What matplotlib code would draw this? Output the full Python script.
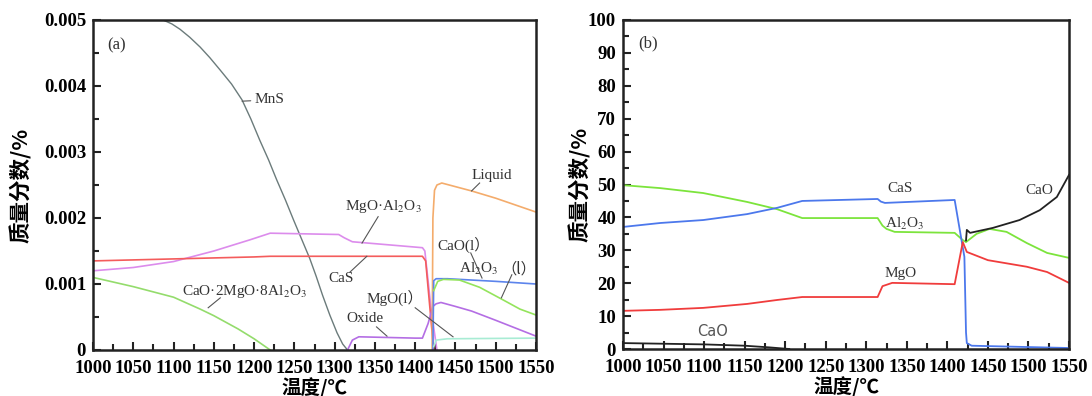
import matplotlib
matplotlib.use("Agg")
import matplotlib.pyplot as plt
from matplotlib.ticker import MultipleLocator

plt.rcParams['mathtext.fontset'] = 'stix'
plt.rcParams['font.family'] = ['Liberation Serif', 'DejaVu Serif']

# ---------------- data (a) : values in units of 0.001 ----------------
t_mns = [1080, 1087, 1098, 1108, 1120, 1133, 1145, 1158, 1172, 1185, 1196, 1207, 1218, 1228, 1239, 1249, 1259, 1269, 1277, 1285, 1294, 1303, 1310, 1316]
v_mns = [5.06, 5.00, 4.94, 4.86, 4.74, 4.59, 4.43, 4.24, 4.03, 3.79, 3.50, 3.18, 2.88, 2.58, 2.27, 1.97, 1.68, 1.39, 1.12, 0.83, 0.53, 0.26, 0.09, 0.0]

t_spinel = [1000, 1050, 1100, 1150, 1195, 1220, 1305, 1312, 1322, 1409, 1412, 1420, 1427]
v_spinel = [1.20, 1.25, 1.34, 1.50, 1.67, 1.77, 1.75, 1.70, 1.64, 1.55, 1.50, 0.60, 0.0]

t_cas_a = [1000, 1100, 1200, 1220, 1409, 1413, 1423]
v_cas_a = [1.35, 1.38, 1.41, 1.42, 1.42, 1.35, 0.0]

t_cma = [1000, 1050, 1100, 1133, 1150, 1180, 1200, 1220]
v_cma = [1.10, 0.96, 0.80, 0.62, 0.52, 0.32, 0.17, 0.0]

t_oxide = [1316, 1322, 1330, 1400, 1409, 1416, 1422, 1426, 1432, 1450, 1470, 1500, 1525, 1550]
v_oxide = [0.0, 0.15, 0.20, 0.18, 0.18, 0.40, 0.66, 0.70, 0.72, 0.66, 0.59, 0.45, 0.33, 0.21]

t_liquid = [1421, 1422, 1424, 1427, 1433, 1470, 1500, 1550]
v_liquid = [0.0, 2.00, 2.42, 2.50, 2.53, 2.41, 2.30, 2.09]

t_caol = [1422, 1423, 1426, 1440, 1500, 1550]
v_caol = [0.0, 1.05, 1.08, 1.08, 1.04, 1.00]

t_al2o3l = [1423, 1428, 1435, 1455, 1480, 1509, 1530, 1550]
v_al2o3l = [0.90, 1.04, 1.07, 1.06, 0.95, 0.76, 0.62, 0.53]

t_mgol = [1423, 1426, 1440, 1550]
v_mgol = [0.05, 0.15, 0.17, 0.18]

# ---------------- data (b) : mass % ----------------
t_b_cas = [1000, 1046, 1099, 1153, 1190, 1221, 1314, 1318, 1323, 1409, 1421, 1423, 1424, 1430, 1550]
v_b_cas = [37.1, 38.3, 39.2, 41.0, 42.9, 45.0, 45.6, 44.8, 44.4, 45.3, 28.0, 5.0, 1.8, 1.0, 0.3]

t_b_al = [1000, 1046, 1099, 1153, 1190, 1221, 1314, 1320, 1325, 1335, 1409, 1419, 1423, 1436, 1452, 1473, 1498, 1523, 1550]
v_b_al = [49.8, 48.9, 47.4, 44.7, 42.5, 39.8, 39.8, 37.5, 36.5, 35.6, 35.3, 33.1, 32.5, 35.0, 36.5, 35.6, 32.2, 29.2, 27.7]

t_b_mgo = [1000, 1046, 1099, 1153, 1190, 1221, 1314, 1320, 1332, 1409, 1419, 1424, 1450, 1498, 1523, 1550]
v_b_mgo = [11.6, 11.9, 12.5, 13.7, 14.9, 15.8, 15.8, 19.1, 20.1, 19.7, 32.5, 29.5, 27.0, 25.0, 23.4, 20.1]

t_b_cao_lo = [1000, 1050, 1100, 1150, 1180, 1205]
v_b_cao_lo = [1.8, 1.6, 1.4, 1.0, 0.5, 0.0]

t_b_cao_hi = [1423, 1424, 1428, 1456, 1489, 1514, 1535, 1550]
v_b_cao_hi = [33.0, 36.2, 35.3, 36.8, 39.2, 42.2, 46.2, 52.9]

x_ticks = list(range(1000, 1551, 50))
ya_ticks = [0, 0.001, 0.002, 0.003, 0.004, 0.005]
ya_labels = ['0', '0.001', '0.002', '0.003', '0.004', '0.005']
yb_ticks = list(range(0, 101, 10))

# ---------------- figure ----------------
fig = plt.figure(figsize=(10.92, 3.96), dpi=100)
axa = fig.add_axes([93/1092, 46/396, 443/1092, 330/396])
axb = fig.add_axes([623/1092, 47/396, 446/1092, 329/396])

sc = 0.001
lw = 1.2
axa.plot(t_mns, [v*sc for v in v_mns], color='#6b7b7b', lw=1.0)
axa.plot(t_spinel, [v*sc for v in v_spinel], color='#dc8cec', lw=lw)
axa.plot(t_cas_a, [v*sc for v in v_cas_a], color='#f45c5c', lw=lw)
axa.plot(t_cma, [v*sc for v in v_cma], color='#94dc6c', lw=lw)
axa.plot(t_oxide, [v*sc for v in v_oxide], color='#b46ee4', lw=lw)
axa.plot(t_liquid, [v*sc for v in v_liquid], color='#f4ac6c', lw=lw)
axa.plot(t_caol, [v*sc for v in v_caol], color='#5c84ec', lw=lw)
axa.plot(t_al2o3l, [v*sc for v in v_al2o3l], color='#94e45c', lw=lw)
axa.plot(t_mgol, [v*sc for v in v_mgol], color='#a8ecd4', lw=lw)

axb.plot(t_b_al, v_b_al, color='#7ce43c', lw=1.3)
axb.plot(t_b_cas, v_b_cas, color='#4c78ec', lw=1.3)
axb.plot(t_b_mgo, v_b_mgo, color='#f03c3c', lw=1.3)
axb.plot(t_b_cao_lo, v_b_cao_lo, color='#222222', lw=1.3)
axb.plot(t_b_cao_hi, v_b_cao_hi, color='#222222', lw=1.3)

for ax in (axa, axb):
    ax.set_xlim(1000, 1550)
    ax.set_xticks(x_ticks)
    ax.xaxis.set_minor_locator(MultipleLocator(25))
    for s in ax.spines.values():
        s.set_linewidth(1.8)
        s.set_color('#222222')
    ax.tick_params(which='both', direction='in', top=False, right=False, color='#222222', width=1.5)
    ax.tick_params(which='major', length=6)
    ax.tick_params(which='minor', length=4)
    ax.tick_params(axis='x', pad=7)
    ax.tick_params(axis='y', pad=5)
    ax.set_xlabel('温度/℃', family=['Noto Sans CJK SC'], fontweight='bold', fontsize=14, labelpad=0)
    ax.set_ylabel('质量分数/%', family=['Noto Sans CJK SC'], fontweight='bold', fontsize=15.5, labelpad=4)

axa.set_ylim(0, 0.005)
axa.set_yticks(ya_ticks)
axa.set_yticklabels(ya_labels)
axa.yaxis.set_minor_locator(MultipleLocator(0.0005))
axb.set_ylim(0, 100)
axb.set_yticks(yb_ticks)
axb.yaxis.set_minor_locator(MultipleLocator(5))

for ax in (axa, axb):
    ax.set_xticklabels([str(t) for t in x_ticks])
    for lab in ax.get_xticklabels() + ax.get_yticklabels():
        lab.set_fontfamily('Liberation Serif')
        lab.set_fontweight('bold')
        lab.set_fontsize(13.5)

axa.yaxis.set_label_coords(-0.137, 0.5)
axb.yaxis.set_label_coords(-0.072, 0.5)

tc = '#333333'
fs = 11
lc = '#555555'

axa.text(0.032, 0.924, '(a)', transform=axa.transAxes, fontsize=12, color=tc, va='center')
axa.annotate('MnS', xy=(1185, 0.00377), xytext=(1201, 0.00379), ha='left', va='center', fontsize=fs, color=tc,
             arrowprops=dict(arrowstyle='-', color=lc, lw=0.8, shrinkA=1, shrinkB=0))
axa.text(1470, 0.00265, 'Liquid', ha='left', va='center', fontsize=fs, color=tc)
axa.plot([1470, 1480], [0.00241, 0.00253], color=lc, lw=0.8)
axa.text(1313, 0.00217, 'MgO·Al$_2$O$_3$', ha='left', va='center', fontsize=fs, color=tc)
axa.plot([1354, 1334], [0.00202, 0.00162], color=lc, lw=0.8)
axa.text(1292, 0.00109, 'CaS', ha='left', va='center', fontsize=fs, color=tc)
axa.plot([1319, 1340], [0.00118, 0.00142], color=lc, lw=0.8)
axa.text(1110, 0.00089, 'CaO·2MgO·8Al$_2$O$_3$', ha='left', va='center', fontsize=fs, color=tc)
axa.plot([1158, 1143], [0.00079, 0.00064], color=lc, lw=0.8)
axa.text(1315, 0.00048, 'Oxide', ha='left', va='center', fontsize=fs, color=tc)
axa.plot([1352, 1365], [0.00035, 0.00021], color=lc, lw=0.8)
axa.text(1340, 0.00079, 'MgO(l）', ha='left', va='center', fontsize=fs, color=tc,
         family=['Liberation Serif', 'Noto Sans CJK SC'])
axa.plot([1400, 1447], [0.00064, 0.00020], color=lc, lw=0.8)
axa.text(1428, 0.00159, 'CaO(l）', ha='left', va='center', fontsize=fs, color=tc,
         family=['Liberation Serif', 'Noto Sans CJK SC'])
axa.plot([1469, 1483], [0.00147, 0.00109], color=lc, lw=0.8)
axa.text(1455, 0.00123, 'Al$_2$O$_3$', ha='left', va='center', fontsize=fs, color=tc)
axa.text(1507, 0.00123, '（l）', ha='left', va='center', fontsize=fs, color=tc,
         family=['Noto Sans CJK SC'])
axa.plot([1520, 1507], [0.00114, 0.00079], color=lc, lw=0.8)

axb.text(0.034, 0.93, '(b)', transform=axb.transAxes, fontsize=12, color=tc, va='center')
axb.text(1342, 48.9, 'CaS', ha='center', va='center', fontsize=fs, color=tc)
axb.text(1323, 38.0, 'Al$_2$O$_3$', ha='left', va='center', fontsize=fs, color=tc)
axb.text(1323, 23.1, 'MgO', ha='left', va='center', fontsize=fs, color=tc)
axb.text(1496, 48.3, 'CaO', ha='left', va='center', fontsize=fs, color=tc, zorder=1)
axb.text(1111, 5.2, 'CaO', ha='center', va='center', fontsize=10.5, color='#555555',
         family=['DejaVu Sans'])

fig.savefig('out.png', dpi=100)
